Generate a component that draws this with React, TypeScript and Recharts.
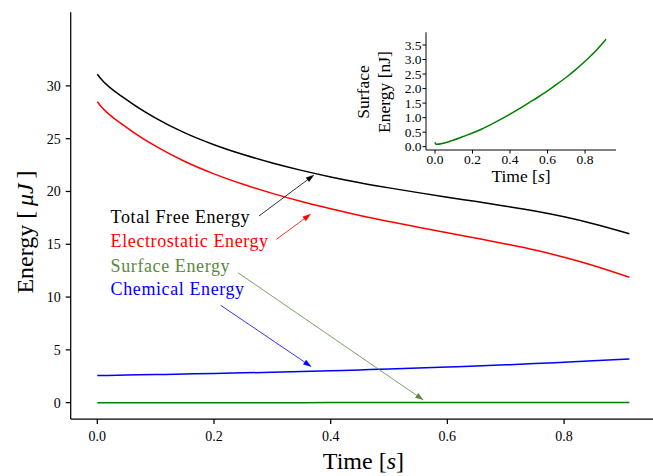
import React from 'react';
import { LineChart, Line, XAxis, YAxis, ReferenceLine, ReferenceDot, Label } from 'recharts';

// ---- data ----
const time = [0, 0.005, 0.05, 0.1, 0.15, 0.2, 0.25, 0.3, 0.35, 0.4, 0.45, 0.5, 0.55, 0.6, 0.65, 0.7, 0.75, 0.8, 0.85, 0.912];
const totalFreeEnergy = [31.1, 30.75, 28.7, 26.95, 25.55, 24.43, 23.5, 22.7, 22.0, 21.38, 20.83, 20.34, 19.89, 19.46, 19.04, 18.61, 18.15, 17.6, 16.95, 16.0];
const electrostaticEnergy = [28.5, 28.15, 26.08, 24.29, 22.84, 21.67, 20.68, 19.82, 19.05, 18.36, 17.73, 17.16, 16.62, 16.09, 15.57, 15.03, 14.45, 13.77, 12.99, 11.87];
const chemicalEnergy = [2.58, 2.58, 2.62, 2.66, 2.71, 2.76, 2.82, 2.88, 2.95, 3.02, 3.1, 3.18, 3.27, 3.37, 3.47, 3.58, 3.7, 3.83, 3.96, 4.13];
const surfaceEnergyNJ = [0.15, 0.08, 0.13, 0.23, 0.35, 0.47, 0.61, 0.77, 0.94, 1.12, 1.31, 1.51, 1.71, 1.92, 2.15, 2.39, 2.65, 2.94, 3.25, 3.7];

const timeTicks = [0, 0.2, 0.4, 0.6, 0.8];
const energyTicks = [0, 5, 10, 15, 20, 25, 30];
const insetEnergyTicks = [0, 0.5, 1.0, 1.5, 2.0, 2.5, 3.0, 3.5];

const annotations = [
  { text: 'Total Free Energy', color: '#000000', tx: 0.0228, ty: 16.99, from: [0.2772, 17.68], to: [0.3713, 21.56] },
  { text: 'Electrostatic Energy', color: '#ff0000', tx: 0.0228, ty: 14.72, from: [0.3069, 15.46], to: [0.3657, 17.86] },
  { text: 'Surface Energy', color: '#5a8a3c', tx: 0.0228, ty: 12.41, from: [0.241, 12.31], to: [0.5589, 0.25] },
  { text: 'Chemical Energy', color: '#0000ff', tx: 0.0228, ty: 10.2, from: [0.2114, 9.22], to: [0.3668, 3.41] },
];

const rows = time.map((t, i) => ({
  t,
  total: totalFreeEnergy[i],
  electro: electrostaticEnergy[i],
  chem: chemicalEnergy[i],
  surfUJ: surfaceEnergyNJ[i] / 1000,
  surfNJ: surfaceEnergyNJ[i],
}));

const FONT = "'Liberation Serif', 'DejaVu Serif', serif";

const makeArrow = (color: string) => (props: any) => {
  const { x1, y1, x2, y2 } = props;
  const dx = x2 - x1;
  const dy = y2 - y1;
  const len = Math.hypot(dx, dy) || 1;
  const ux = dx / len;
  const uy = dy / len;
  const hl = 8;
  const hw = 2.6;
  const bx = x2 - ux * hl;
  const by = y2 - uy * hl;
  const pts = `${x2},${y2} ${bx - uy * hw},${by + ux * hw} ${bx + uy * hw},${by - ux * hw}`;
  return (
    <g>
      <line x1={x1} y1={y1} x2={bx} y2={by} stroke={color} strokeWidth={0.8} />
      <polygon points={pts} fill={color} stroke={color} strokeWidth={0.3} />
    </g>
  );
};

const makeText = (text: string, color: string) => (props: any) => (
  <text x={props.cx} y={props.cy} fill={color} fontSize={18} fontFamily={FONT} letterSpacing={0.6}>
    {text}
  </text>
);

const tickStyle = { fill: '#000', fontSize: 14, fontFamily: FONT };
const insetTickStyle = { fill: '#000', fontSize: 13.5, fontFamily: FONT };

export default function App() {
  return (
    <div style={{ position: 'absolute', left: 0, top: 0, width: 653, height: 476, overflow: 'hidden', background: '#fff' }}>
      <div style={{ position: 'absolute', left: 0, top: 0 }}>
        <LineChart width={700} height={476} data={rows} margin={{ top: 12.3, right: 44, bottom: 27, left: 10.7 }}>
          <XAxis
            dataKey="t"
            type="number"
            domain={[-0.0456, 0.9576]}
            allowDataOverflow
            ticks={timeTicks}
            interval={0}
            tickFormatter={(v: number) => v.toFixed(1)}
            tick={tickStyle}
            tickSize={5}
            tickMargin={7}
            height={30}
            axisLine={{ stroke: '#000', strokeWidth: 1.25 }}
            tickLine={{ stroke: '#000', strokeWidth: 1.25 }}
          >
            <Label
              content={() => (
                <text x={363.4} y={469} textAnchor="middle" fontSize={24} fontFamily={FONT} fill="#000">
                  Time [<tspan fontStyle="italic">s</tspan>]
                </text>
              )}
            />
          </XAxis>
          <XAxis
            xAxisId="top"
            orientation="top"
            type="number"
            domain={[-0.0456, 0.9576]}
            allowDataOverflow
            tick={false}
            tickLine={false}
            height={0}
            axisLine={{ stroke: '#000', strokeWidth: 1.25 }}
          />
          <YAxis
            type="number"
            domain={[-1.55, 36.97]}
            allowDataOverflow
            ticks={energyTicks}
            interval={0}
            tick={tickStyle}
            tickSize={5}
            tickMargin={5}
            width={60}
            axisLine={{ stroke: '#000', strokeWidth: 1.25 }}
            tickLine={{ stroke: '#000', strokeWidth: 1.25 }}
          >
            <Label
              content={() => (
                <text
                  x={33}
                  y={232}
                  transform="rotate(-90, 33, 232)"
                  textAnchor="middle"
                  fontSize={24}
                  fontFamily={FONT}
                  fill="#000"
                >
                  Energy [{'\u2009'}<tspan fontStyle="italic">μJ</tspan>{'\u2009'}]
                </text>
              )}
            />
          </YAxis>
          <Line dataKey="total" type="monotone" stroke="#000000" strokeWidth={1.5} dot={false} isAnimationActive={false} />
          <Line dataKey="electro" type="monotone" stroke="#ff0000" strokeWidth={1.5} dot={false} isAnimationActive={false} />
          <Line dataKey="chem" type="monotone" stroke="#0000ff" strokeWidth={1.5} dot={false} isAnimationActive={false} />
          <Line dataKey="surfUJ" type="monotone" stroke="#008000" strokeWidth={1.5} dot={false} isAnimationActive={false} />
          {annotations.map((a) => (
            <ReferenceLine
              key={'arrow-' + a.text}
              segment={[{ x: a.from[0], y: a.from[1] }, { x: a.to[0], y: a.to[1] }]}
              stroke={a.color}
              shape={makeArrow(a.color)}
            />
          ))}
          {annotations.map((a) => (
            <ReferenceDot key={'text-' + a.text} x={a.tx} y={a.ty} r={1} shape={makeText(a.text, a.color)} />
          ))}
        </LineChart>
      </div>
      <div style={{ position: 'absolute', left: 330, top: 20 }}>
        <LineChart width={300} height={170} data={rows} margin={{ top: 12.3, right: 14, bottom: 20, left: 60 }}>
          <XAxis
            dataKey="t"
            type="number"
            domain={[-0.048, 0.965]}
            allowDataOverflow
            ticks={timeTicks}
            interval={0}
            tickFormatter={(v: number) => v.toFixed(1)}
            tick={insetTickStyle}
            tickSize={3.5}
            tickMargin={0.5}
            height={20}
            axisLine={{ stroke: '#000', strokeWidth: 1 }}
            tickLine={{ stroke: '#000', strokeWidth: 1 }}
          >
            <Label
              content={() => (
                <text x={191} y={162} textAnchor="middle" fontSize={17.5} fontFamily={FONT} fill="#000">
                  Time [<tspan fontStyle="italic">s</tspan>]
                </text>
              )}
            />
          </XAxis>
          <XAxis
            xAxisId="top"
            orientation="top"
            type="number"
            domain={[-0.048, 0.965]}
            allowDataOverflow
            tick={false}
            tickLine={false}
            height={0}
            axisLine={{ stroke: '#000', strokeWidth: 1 }}
          />
          <YAxis
            type="number"
            domain={[-0.114, 3.937]}
            allowDataOverflow
            ticks={insetEnergyTicks}
            interval={0}
            tickFormatter={(v: number) => v.toFixed(1)}
            tick={insetTickStyle}
            tickSize={3.5}
            tickMargin={1}
            width={36}
            axisLine={{ stroke: '#000', strokeWidth: 1 }}
            tickLine={{ stroke: '#000', strokeWidth: 1 }}
          >
            <Label
              content={() => (
                <g>
                  <text x={39} y={72} transform="rotate(-90, 39, 72)" textAnchor="middle" fontSize={17.5} fontFamily={FONT} fill="#000">
                    Surface
                  </text>
                  <text x={59.5} y={72} transform="rotate(-90, 59.5, 72)" textAnchor="middle" fontSize={17.5} fontFamily={FONT} fill="#000">
                    Energy [nJ]
                  </text>
                </g>
              )}
            />
          </YAxis>
          <YAxis
            yAxisId="right"
            orientation="right"
            type="number"
            domain={[-0.114, 3.937]}
            allowDataOverflow
            tick={false}
            tickLine={false}
            width={0}
            axisLine={{ stroke: '#000', strokeWidth: 1 }}
          />
          <Line dataKey="surfNJ" type="monotone" stroke="#008000" strokeWidth={1.5} dot={false} isAnimationActive={false} />
        </LineChart>
      </div>
    </div>
  );
}
